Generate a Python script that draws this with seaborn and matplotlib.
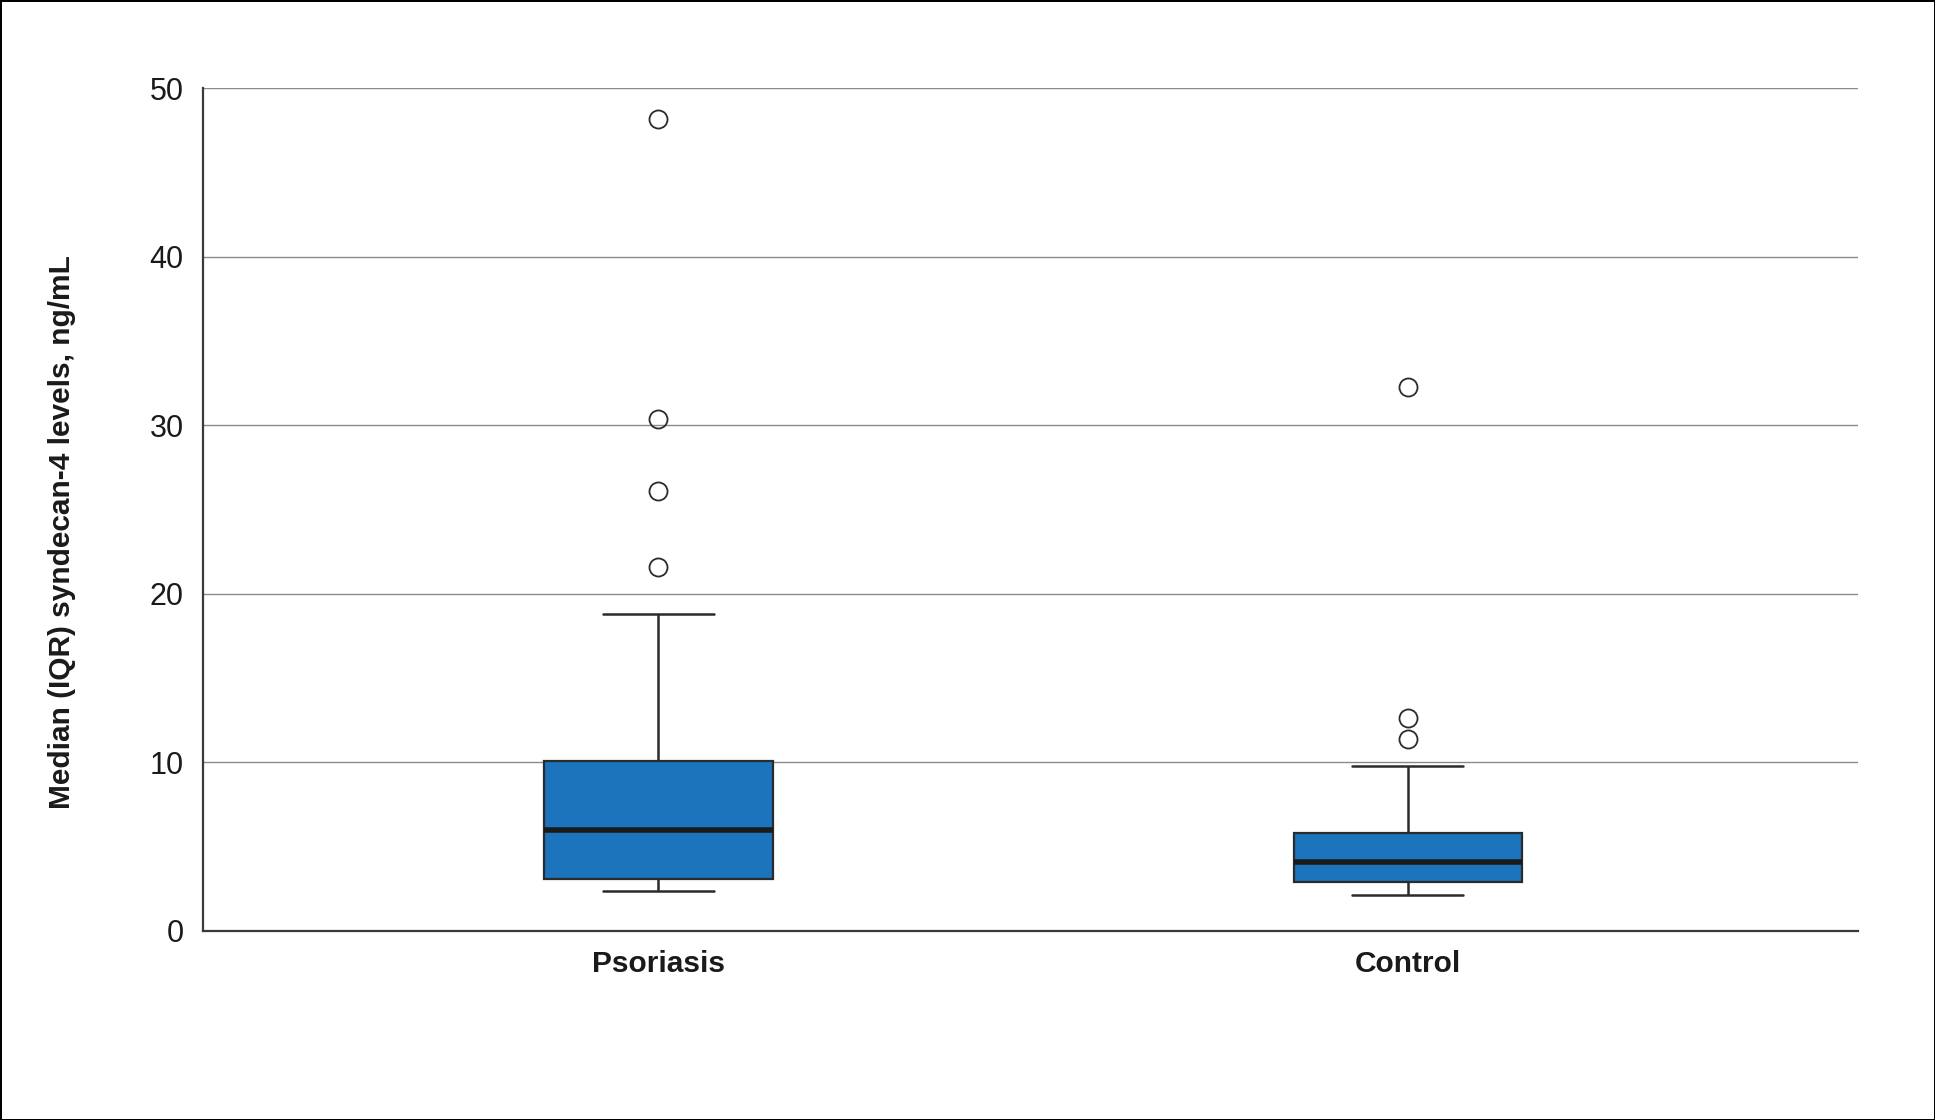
import numpy as np
import pandas as pd
import matplotlib
matplotlib.use('Agg')
import matplotlib.pyplot as plt
import seaborn as sns

# 그룹별 값 (그림에서 읽은 사분위수, 수염, 이상치에 맞춘 관측값)
psoriasis_vals = [2.34, 2.5, 2.7, 2.85, 2.95, 3.05, 3.6, 4.3, 4.9, 5.5, 6.0,
                  6.7, 7.5, 8.3, 9.2, 10.05, 18.8, 21.6, 26.1, 30.4, 48.2]
control_vals = [2.13, 2.4, 2.6, 2.8, 2.9, 3.2, 3.5, 3.8, 4.08,
                4.5, 4.9, 5.3, 5.8, 9.8, 11.4, 12.6, 32.3]
groups = ['Psoriasis', 'Control']
y_ticks = [0, 10, 20, 30, 40, 50]
y_label = 'Median (IQR) syndecan-4 levels, ng/mL'

df = pd.DataFrame({
    'group': ['Psoriasis'] * len(psoriasis_vals) + ['Control'] * len(control_vals),
    'value': psoriasis_vals + control_vals,
})

sns.set_theme(style='white')
plt.rcParams['font.family'] = ['Liberation Sans', 'DejaVu Sans']

fig = plt.figure(figsize=(19.35, 11.2), dpi=100)
ax = fig.add_axes([0.105, 0.169, 0.855, 0.752])

sns.boxplot(data=df, x='group', y='value', order=groups, ax=ax,
            color='#1c74bc', saturation=1, width=0.305, whis=1.5,
            linecolor='#2b2b2b', linewidth=1.6,
            medianprops=dict(color='#1a1a1a', linewidth=4),
            flierprops=dict(marker='o', markersize=13, markerfacecolor='none',
                            markeredgecolor='#2b2b2b', markeredgewidth=1.3),
            capprops=dict(color='#2b2b2b', linewidth=1.8),
            whiskerprops=dict(color='#2b2b2b', linewidth=1.8),
            zorder=3)

# 캡 길이를 상자 폭의 절반으로
for line in ax.lines:
    xd = np.asarray(line.get_xdata(), dtype=float)
    yd = np.asarray(line.get_ydata(), dtype=float)
    if len(xd) == 2 and yd[0] == yd[1] and abs(xd[1] - xd[0]) < 0.2 and line.get_linewidth() < 3:
        c = xd.mean()
        line.set_xdata([c - 0.074, c + 0.074])

ax.set_xlim(-0.607, 1.6)
ax.set_ylim(0, 50)
ax.set_yticks(y_ticks)
ax.yaxis.grid(True, color='#8a8a8a', linewidth=1.0)
ax.set_axisbelow(True)

for s in ['top', 'right']:
    ax.spines[s].set_visible(False)
for s in ['left', 'bottom']:
    ax.spines[s].set_color('#3a3a3a')
    ax.spines[s].set_linewidth(1.6)

ax.tick_params(axis='y', length=0, pad=14, labelsize=22, labelcolor='#1a1a1a')
ax.tick_params(axis='x', length=0, pad=14, labelsize=21.5, labelcolor='#1a1a1a')
for lbl in ax.get_xticklabels():
    lbl.set_fontweight('bold')

ax.set_xlabel('')
ax.set_ylabel(y_label, fontsize=21.5, fontweight='bold', color='#1a1a1a')
ax.yaxis.set_label_coords(-0.077, 0.473)

# 그림 테두리
fig.patch.set_edgecolor('black')
fig.patch.set_linewidth(2)

fig.savefig('out.png', dpi=100, facecolor='white', edgecolor=fig.get_edgecolor())
